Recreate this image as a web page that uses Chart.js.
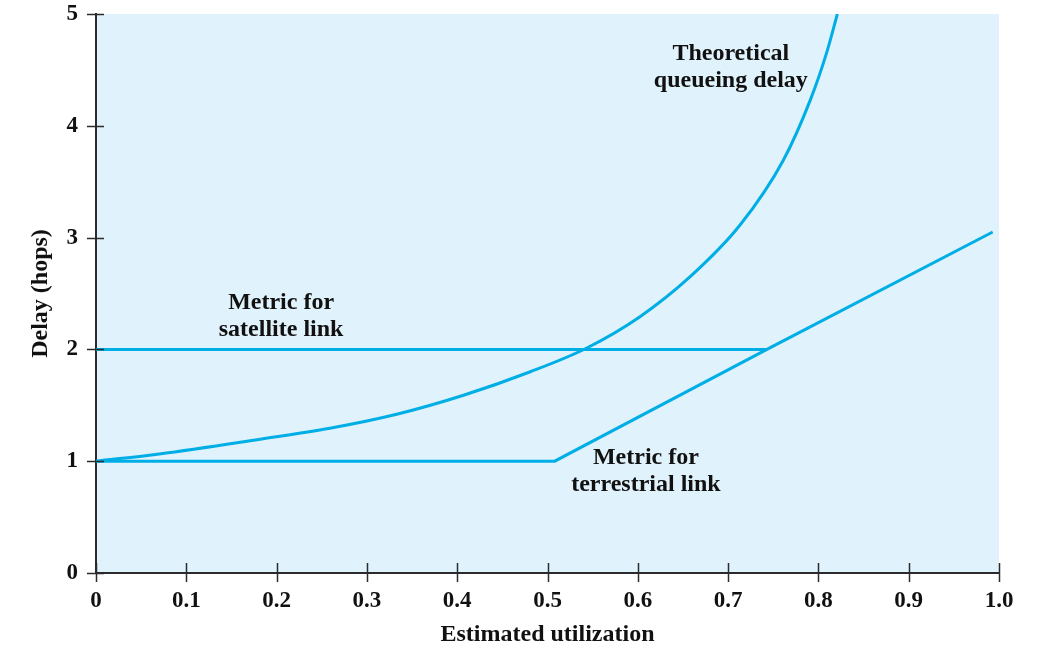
<!DOCTYPE html>
<html>
<head>
<meta charset="utf-8">
<script src="https://cdn.jsdelivr.net/npm/chart.js@4/dist/chart.umd.min.js"></script>
<style>
  html, body { margin: 0; padding: 0; background: #ffffff; }
  #wrap { width: 1041px; height: 653px; }
</style>
</head>
<body>
<div id="wrap"><canvas id="c" width="1041" height="653"></canvas></div>
<script>
// ---- data ----
const xTickValues = [0, 0.1, 0.2, 0.3, 0.4, 0.5, 0.6, 0.7, 0.8, 0.9, 1.0];
const xTickLabels = ['0', '0.1', '0.2', '0.3', '0.4', '0.5', '0.6', '0.7', '0.8', '0.9', '1.0'];
const yTickValues = [0, 1, 2, 3, 4, 5];

const queueX = [0, 0.07, 0.18, 0.259, 0.333, 0.407, 0.481, 0.543, 0.602, 0.658, 0.713, 0.761, 0.791, 0.809, 0.821];
const queueY = [1, 1.065, 1.195, 1.295, 1.42, 1.59, 1.80, 2.01, 2.29, 2.65, 3.11, 3.69, 4.23, 4.65, 5.0];

const satelliteX = [0, 0.743];
const satelliteY = [2, 2];

const terrestrialX = [0, 0.508, 0.743, 0.993];
const terrestrialY = [1, 1, 2.0, 3.05];

const annotationText = [
  ['Theoretical', 'queueing delay'],
  ['Metric for', 'satellite link'],
  ['Metric for', 'terrestrial link']
];
const annotationAnchorX = [0.703, 0.205, 0.609];
const annotationAnchorY = [4.64, 2.42, 1.03];

// ---- styles ----
const LINE_COLOR = '#00aee6';
const BG_COLOR = '#e0f2fc';
const AXIS_COLOR = '#2b2b2b';
const FONT = '"Liberation Serif", "Times New Roman", serif';

const toPts = (xs, ys) => xs.map((x, i) => ({ x: x, y: ys[i] }));

const decorPlugin = {
  id: 'decor',
  beforeDraw(chart) {
    const { ctx, chartArea: a } = chart;
    ctx.save();
    ctx.fillStyle = BG_COLOR;
    ctx.fillRect(a.left, a.top, a.right - a.left, a.bottom - a.top);
    ctx.restore();
  },
  afterDraw(chart) {
    const { ctx } = chart;
    const xs = chart.scales.x, ys = chart.scales.y;
    ctx.save();
    ctx.strokeStyle = AXIS_COLOR;
    ctx.lineWidth = 1.5;
    xTickValues.forEach(v => {
      const px = Math.round(xs.getPixelForValue(v)) + 0.5;
      ctx.beginPath();
      ctx.moveTo(px, ys.bottom - 10);
      ctx.lineTo(px, ys.bottom + 9);
      ctx.stroke();
    });
    yTickValues.forEach(v => {
      const py = Math.round(ys.getPixelForValue(v)) + 0.5;
      ctx.beginPath();
      ctx.moveTo(xs.left - 9, py);
      ctx.lineTo(xs.left + 8, py);
      ctx.stroke();
    });
    ctx.fillStyle = '#111111';
    ctx.font = 'bold 24px ' + FONT;
    ctx.textAlign = 'center';
    ctx.textBaseline = 'middle';
    annotationText.forEach((lines, i) => {
      const cx = xs.getPixelForValue(annotationAnchorX[i]);
      const cy = ys.getPixelForValue(annotationAnchorY[i]);
      lines.forEach((t, j) => ctx.fillText(t, cx, cy + j * 27));
    });
    ctx.restore();
  }
};

const lineDs = (label, data, extra) => Object.assign({
  label: label,
  data: data,
  borderColor: LINE_COLOR,
  borderWidth: 3,
  pointRadius: 0,
  pointHoverRadius: 0,
  fill: false,
  tension: 0
}, extra || {});

new Chart(document.getElementById('c'), {
  type: 'line',
  data: {
    datasets: [
      lineDs('Theoretical queueing delay', toPts(queueX, queueY), { cubicInterpolationMode: 'monotone' }),
      lineDs('Metric for satellite link', toPts(satelliteX, satelliteY)),
      lineDs('Metric for terrestrial link', toPts(terrestrialX, terrestrialY))
    ]
  },
  options: {
    responsive: false,
    animation: false,
    events: [],
    layout: { padding: { left: 0, right: 42, top: 14, bottom: 0 } },
    plugins: { legend: { display: false }, tooltip: { enabled: false }, title: { display: false } },
    scales: {
      x: {
        type: 'linear',
        min: 0, max: 1,
        afterFit(s) { s.height = 80; s.paddingLeft = 0; s.paddingRight = 0; },
        afterBuildTicks(s) { s.ticks = xTickValues.map(v => ({ value: v })); },
        grid: { display: false, drawTicks: false },
        border: { display: true, color: AXIS_COLOR, width: 2 },
        ticks: {
          padding: 14,
          color: '#111111',
          font: { family: FONT, size: 23, weight: 'bold' },
          maxRotation: 0,
          autoSkip: false,
          callback: (v, i) => xTickLabels[i]
        },
        title: {
          display: true,
          text: 'Estimated utilization',
          color: '#111111',
          font: { family: FONT, size: 24, weight: 'bold' },
          padding: { top: 0, bottom: 4 }
        }
      },
      y: {
        type: 'linear',
        min: 0, max: 5,
        afterFit(s) { s.width = 96; s.paddingTop = 0; s.paddingBottom = 0; },
        afterBuildTicks(s) { s.ticks = yTickValues.map(v => ({ value: v })); },
        grid: { display: false, drawTicks: false },
        border: { display: true, color: AXIS_COLOR, width: 2 },
        ticks: {
          padding: 18,
          color: '#111111',
          font: { family: FONT, size: 23, weight: 'bold' },
          autoSkip: false,
          callback: v => String(v)
        },
        title: {
          display: true,
          text: 'Delay (hops)',
          color: '#111111',
          font: { family: FONT, size: 24, weight: 'bold' },
          padding: { top: 26, bottom: 0 }
        }
      }
    }
  },
  plugins: [decorPlugin]
});
</script>
</body>
</html>
